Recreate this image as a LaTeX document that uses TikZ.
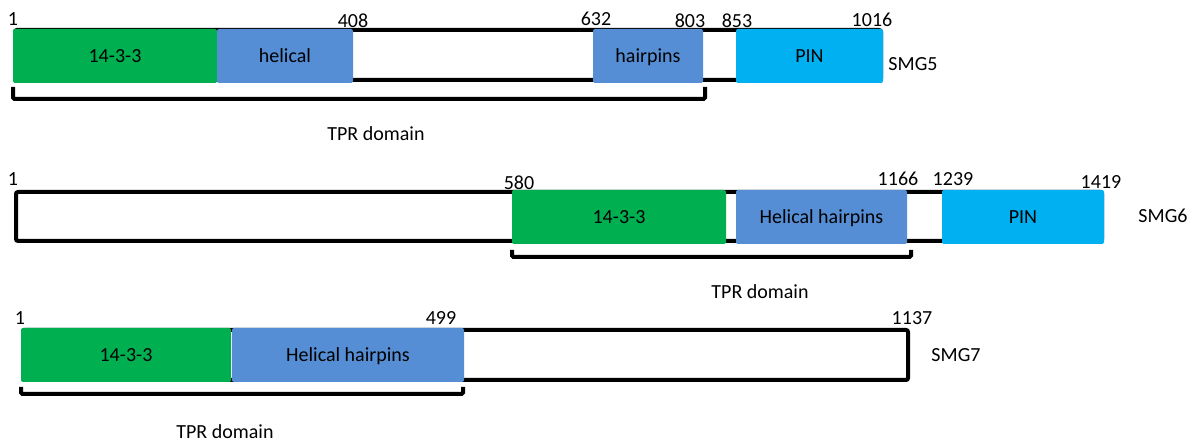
\documentclass[tikz,border=0pt]{standalone}
\usepackage{fontspec}
\setmainfont{Carlito}
\definecolor{domgreen}{HTML}{00B050}
\definecolor{domblue}{HTML}{558ED5}
\definecolor{domcyan}{HTML}{00B0F0}
\definecolor{txt}{HTML}{000000}
\begin{document}
\begin{tikzpicture}[x=1pt,y=-1pt,
  backbone/.style={draw=black,line width=4pt,rounded corners=2pt,fill=white},
  dombox/.style={rounded corners=2pt,inner sep=0pt,minimum height=54pt,text depth=0pt,font=\fontsize{20}{20}\selectfont,text=txt},
  lbl/.style={inner sep=0pt,font=\fontsize{20}{20}\selectfont,text=txt},
  bracket/.style={draw=black,line width=4pt,rounded corners=1.5pt}]
\useasboundingbox (0,0) rectangle (1195,443);
% ---------- SMG5 ----------
\draw[backbone] (15,30) rectangle (881,80);
\node[dombox,fill=domgreen,minimum width=204pt] (g5) at (115,56) {14-3-3};
\node[dombox,fill=domblue,minimum width=136pt] (h5) at (285,56) {helical};
\node[dombox,fill=domblue,minimum width=110pt] (hp5) at (648,56) {hairpins};
\node[dombox,fill=domcyan,minimum width=147pt] (p5) at (809.5,56) {PIN};
\node[lbl] (n5a) at (13,19) {1};
\node[lbl] (n5b) at (353,21) {408};
\node[lbl] (n5c) at (596,19) {632};
\node[lbl] (n5d) at (690,21) {803};
\node[lbl] (n5e) at (737,21) {853};
\node[lbl] (n5f) at (872,20) {1016};
\node[lbl] (s5) at (913,64) {SMG5};
\draw[bracket] (13,87) |- (705,99) -- (705,87);
\node[lbl] (t5) at (376,134) {TPR domain};
% ---------- SMG6 ----------
\draw[backbone] (16,192) rectangle (1102,241);
\node[dombox,fill=domgreen,minimum width=214pt] (g6) at (619,217) {14-3-3};
\node[dombox,fill=domblue,minimum width=171pt] (h6) at (821.5,217) {Helical hairpins};
\node[dombox,fill=domcyan,minimum width=162pt] (p6) at (1023,217) {PIN};
\node[lbl] (n6a) at (13,179) {1};
\node[lbl] (n6b) at (519,183) {580};
\node[lbl] (n6c) at (898,179) {1166};
\node[lbl] (n6d) at (953,179) {1239};
\node[lbl] (n6e) at (1101,182) {1419};
\node[lbl] (s6) at (1163,216) {SMG6};
\draw[bracket] (512,250) |- (911,257) -- (911,250);
\node[lbl] (t6) at (760,292) {TPR domain};
% ---------- SMG7 ----------
\draw[backbone] (23,330) rectangle (908,380);
\node[dombox,fill=domgreen,minimum width=210pt] (g7) at (126,355) {14-3-3};
\node[dombox,fill=domblue,minimum width=232pt] (h7) at (348,355) {Helical hairpins};
\node[lbl] (n7a) at (20,318) {1};
\node[lbl] (n7b) at (441,318) {499};
\node[lbl] (n7c) at (912,318) {1137};
\node[lbl] (s7) at (956,355) {SMG7};
\draw[bracket] (21,387) |- (463,394) -- (463,387);
\node[lbl] (t7) at (225,432) {TPR domain};
\end{tikzpicture}
\end{document}
